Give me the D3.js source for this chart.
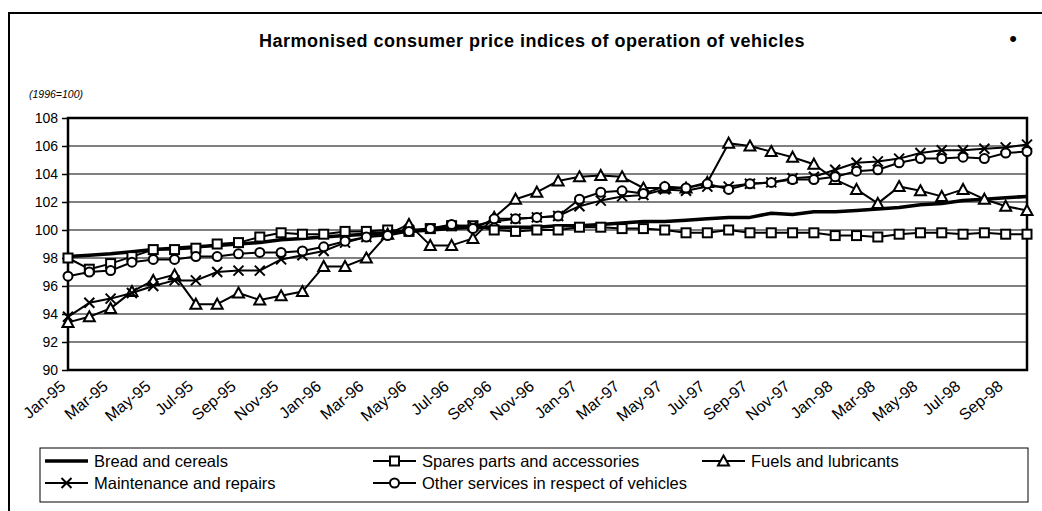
<!DOCTYPE html>
<html>
<head>
<meta charset="utf-8">
<script src="https://cdn.jsdelivr.net/npm/d3@7"></script>
<style>
  body { margin: 0; background: #fff; }
  text { font-family: "Liberation Sans", Arial, sans-serif; fill: #000; }
</style>
</head>
<body>
<div id="chart"></div>
<script>
var months = ["Jan-95","Feb-95","Mar-95","Apr-95","May-95","Jun-95","Jul-95","Aug-95","Sep-95","Oct-95","Nov-95","Dec-95",
  "Jan-96","Feb-96","Mar-96","Apr-96","May-96","Jun-96","Jul-96","Aug-96","Sep-96","Oct-96","Nov-96","Dec-96",
  "Jan-97","Feb-97","Mar-97","Apr-97","May-97","Jun-97","Jul-97","Aug-97","Sep-97","Oct-97","Nov-97","Dec-97",
  "Jan-98","Feb-98","Mar-98","Apr-98","May-98","Jun-98","Jul-98","Aug-98","Sep-98","Oct-98"]

var breadCereals = [98.1,98.2,98.3,98.45,98.6,98.7,98.8,98.9,99.0,99.1,99.3,99.4,
  99.5,99.6,99.7,99.8,99.9,100.0,100.1,100.2,100.2,100.2,100.2,100.3,
  100.3,100.4,100.5,100.6,100.6,100.7,100.8,100.9,100.9,101.2,101.1,101.3,
  101.3,101.4,101.5,101.6,101.8,101.9,102.1,102.2,102.3,102.4]

var spareParts = [98.0,97.2,97.6,98.1,98.6,98.6,98.7,99.0,99.1,99.5,99.8,99.7,
  99.7,99.9,99.9,100.0,99.9,100.1,100.3,100.3,100.0,99.9,100.0,100.0,
  100.2,100.2,100.1,100.1,100.0,99.8,99.8,100.0,99.8,99.8,99.8,99.8,
  99.6,99.6,99.5,99.7,99.8,99.8,99.7,99.8,99.7,99.7]

var fuels = [93.4,93.8,94.4,95.6,96.4,96.8,94.7,94.7,95.5,95.0,95.3,95.6,
  97.4,97.4,98.0,99.7,100.4,98.9,98.9,99.4,100.9,102.2,102.7,103.5,
  103.8,103.9,103.8,103.0,103.0,103.0,103.4,106.2,106.0,105.6,105.2,104.7,
  103.6,102.9,101.9,103.1,102.8,102.4,102.9,102.2,101.7,101.4]

var maintenance = [93.8,94.8,95.1,95.5,96.0,96.4,96.4,97.0,97.1,97.1,97.9,98.2,
  98.5,99.1,99.5,99.7,100.0,100.1,100.3,100.3,100.6,100.8,100.9,101.0,
  101.7,102.1,102.4,102.5,102.9,102.8,103.1,103.1,103.3,103.4,103.7,103.8,
  104.3,104.8,104.9,105.1,105.5,105.7,105.7,105.8,105.9,106.1]

var otherServices = [96.7,97.0,97.1,97.7,97.9,97.9,98.1,98.1,98.3,98.4,98.4,98.5,
  98.8,99.2,99.5,99.6,99.9,100.1,100.4,100.1,100.8,100.8,100.9,101.0,
  102.2,102.7,102.8,102.6,103.1,103.0,103.3,102.9,103.3,103.4,103.6,103.6,
  103.8,104.2,104.3,104.8,105.1,105.1,105.2,105.1,105.5,105.6]

var seriesNames = ["Bread and cereals", "Spares parts and accessories", "Fuels and lubricants",
  "Maintenance and repairs", "Other services in respect of vehicles"]
var yTicks = [90, 92, 94, 96, 98, 100, 102, 104, 106, 108]
var xTickLabels = months.filter((d, i) => i % 2 == 0)

var series = [
  {name: seriesNames[0], values: breadCereals, marker: null},
  {name: seriesNames[1], values: spareParts, marker: "square"},
  {name: seriesNames[2], values: fuels, marker: "triangle"},
  {name: seriesNames[3], values: maintenance, marker: "cross"},
  {name: seriesNames[4], values: otherServices, marker: "circle"}
]

var width = 1042, height = 511
var plot = {left: 68, right: 1027, top: 118, bottom: 370}

var svg = d3.select("#chart")
  .append("svg")
  .attr("width", width)
  .attr("height", height)

// outer frame, runs off the right and bottom like the source
svg.append("rect")
  .attr("x", 9).attr("y", 13)
  .attr("width", 1100).attr("height", 600)
  .attr("fill", "none")
  .attr("stroke", "#000")
  .attr("stroke-width", 2)

svg.append("text")
  .attr("x", 532).attr("y", 47)
  .attr("text-anchor", "middle")
  .style("font-weight", "bold")
  .style("font-size", "18px")
  .style("letter-spacing", "0.5px")
  .text("Harmonised consumer price indices of operation of vehicles")

svg.append("text")
  .attr("x", 1013).attr("y", 46)
  .attr("text-anchor", "middle")
  .style("font-size", "22px")
  .text("•")

svg.append("text")
  .attr("x", 29).attr("y", 98)
  .style("font-style", "italic")
  .style("font-size", "10.5px")
  .text("(1996=100)")

var x = d3.scalePoint()
  .domain(months)
  .range([plot.left, plot.right])

var y = d3.scaleLinear()
  .domain([90, 108])
  .range([plot.bottom, plot.top])

// gridlines
svg.append("g")
  .selectAll("line")
  .data(yTicks)
  .enter()
  .append("line")
  .attr("x1", plot.left).attr("x2", plot.right)
  .attr("y1", d => y(d)).attr("y2", d => y(d))
  .attr("stroke", "#000")
  .attr("stroke-width", 1)

svg.append("rect")
  .attr("x", plot.left).attr("y", plot.top)
  .attr("width", plot.right - plot.left)
  .attr("height", plot.bottom - plot.top)
  .attr("fill", "none")
  .attr("stroke", "#000")
  .attr("stroke-width", 2.5)

// y axis
var yAxis = svg.append("g")
  .attr("transform", "translate(" + plot.left + ",0)")
  .call(d3.axisLeft(y).tickValues(yTicks).tickSize(6).tickPadding(4))
yAxis.select(".domain").remove()
yAxis.selectAll(".tick line").attr("stroke-width", 1.5)
yAxis.selectAll("text")
  .style("font-size", "14px")
  .style("font-family", "'Liberation Sans', Arial, sans-serif")

// x axis
var xAxis = svg.append("g")
  .attr("transform", "translate(0," + plot.bottom + ")")
  .call(d3.axisBottom(x).tickValues(xTickLabels).tickSize(0).tickPadding(0))
xAxis.select(".domain").remove()
xAxis.selectAll("text")
  .style("font-size", "16px")
  .style("font-family", "'Liberation Sans', Arial, sans-serif")
  .attr("text-anchor", "end")
  .attr("dy", null)
  .attr("y", 0)
  .attr("transform", "translate(-2,18) rotate(-40)")

var line = d3.line()
  .x((d, i) => x(months[i]))
  .y(d => y(d))

function drawMarker(g, type) {
  if (type == "square") {
    g.append("rect").attr("x", -4.5).attr("y", -4.5).attr("width", 9).attr("height", 9)
      .attr("fill", "#fff").attr("stroke", "#000").attr("stroke-width", 2)
  } else if (type == "triangle") {
    g.append("path").attr("d", "M0,-5.5L5.5,4.5L-5.5,4.5Z")
      .attr("fill", "#fff").attr("stroke", "#000").attr("stroke-width", 2)
  } else if (type == "circle") {
    g.append("circle").attr("r", 4.5)
      .attr("fill", "#fff").attr("stroke", "#000").attr("stroke-width", 2)
  } else if (type == "cross") {
    g.append("path").attr("d", "M-5,-5L5,5M5,-5L-5,5")
      .attr("fill", "none").attr("stroke", "#000").attr("stroke-width", 2)
  }
}

series.forEach(function(s) {
  svg.append("path")
    .datum(s.values)
    .attr("fill", "none")
    .attr("stroke", "#000")
    .attr("stroke-width", s.marker ? 2 : 3.5)
    .attr("stroke-linejoin", "round")
    .attr("d", line)

  if (s.marker) {
    svg.append("g")
      .selectAll("g")
      .data(s.values)
      .enter()
      .append("g")
      .attr("transform", (d, i) => "translate(" + x(months[i]) + "," + y(d) + ")")
      .each(function() { drawMarker(d3.select(this), s.marker) })
  }
})

// legend
var legend = svg.append("g")
legend.append("rect")
  .attr("x", 40).attr("y", 448)
  .attr("width", 988).attr("height", 54)
  .attr("fill", "#fff")
  .attr("stroke", "#000")
  .attr("stroke-width", 1)

var legendPos = [[45, 461], [373, 461], [702, 461], [45, 483], [373, 483]]

series.forEach(function(s, i) {
  var p = legendPos[i]
  var item = legend.append("g").attr("transform", "translate(" + p[0] + "," + p[1] + ")")
  item.append("line")
    .attr("x1", 0).attr("x2", 43)
    .attr("stroke", "#000")
    .attr("stroke-width", s.marker ? 2 : 3.5)
  if (s.marker) {
    var m = item.append("g").attr("transform", "translate(21.5,0)")
    drawMarker(m, s.marker)
  }
  item.append("text")
    .attr("x", 49).attr("y", 6)
    .style("font-size", "16.5px")
    .text(s.name)
})
</script>
</body>
</html>
